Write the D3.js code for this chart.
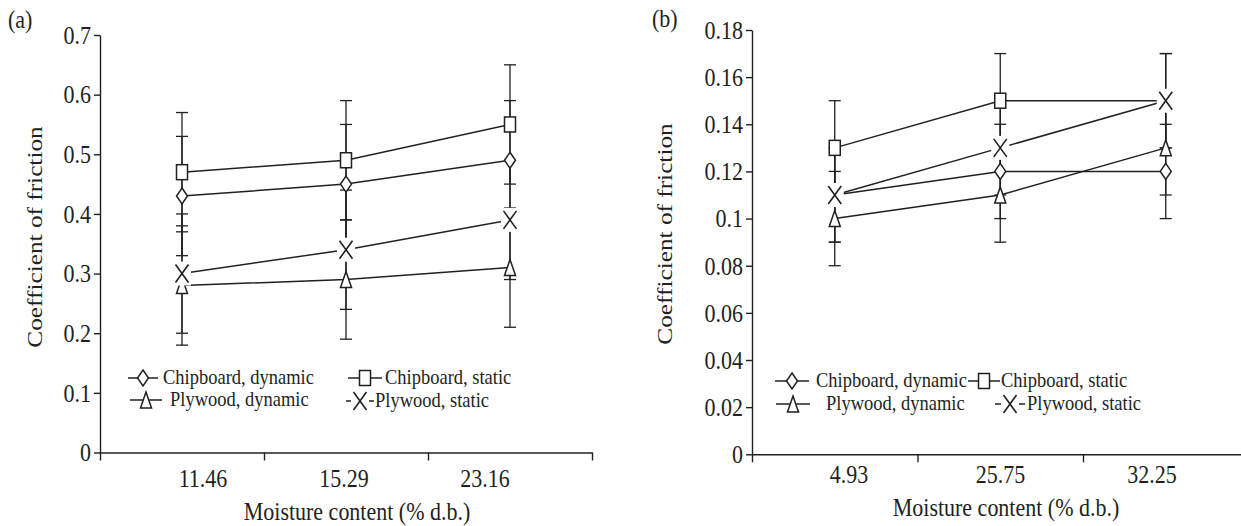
<!DOCTYPE html>
<html>
<head>
<meta charset="utf-8">
<script src="https://cdn.jsdelivr.net/npm/d3@7"></script>
<style>
  body { margin: 0; background: #fff; }
  svg { display: block; }
  text { font-family: "Liberation Serif", "Times New Roman", serif; fill: #231f20; }
</style>
</head>
<body>
<svg id="chart" width="1241" height="526"></svg>
<script>
// ---- data ----
const seriesNames = ["Chipboard, dynamic", "Chipboard, static", "Plywood, dynamic", "Plywood, static"];
const seriesSymbols = ["diamond", "square", "triangle", "cross"];

// (a)
const moistureA = ["11.46", "15.29", "23.16"];
const chipboardDynamicA = [0.43, 0.45, 0.49];
const chipboardStaticA = [0.47, 0.49, 0.55];
const plywoodDynamicA = [0.28, 0.29, 0.31];
const plywoodStaticA = [0.30, 0.34, 0.39];
const errorA = [0.1, 0.1, 0.1, 0.1];
const yTicksA = [0, 0.1, 0.2, 0.3, 0.4, 0.5, 0.6, 0.7];
const yTickLabelsA = ["0", "0.1", "0.2", "0.3", "0.4", "0.5", "0.6", "0.7"];

// (b)
const moistureB = ["4.93", "25.75", "32.25"];
const chipboardDynamicB = [0.11, 0.12, 0.12];
const chipboardStaticB = [0.13, 0.15, 0.15];
const plywoodDynamicB = [0.10, 0.11, 0.13];
const plywoodStaticB = [0.11, 0.13, 0.15];
const errorB = [0.02, 0.02, 0.02, 0.02];
const yTicksB = [0, 0.02, 0.04, 0.06, 0.08, 0.1, 0.12, 0.14, 0.16, 0.18];
const yTickLabelsB = ["0", "0.02", "0.04", "0.06", "0.08", "0.1", "0.12", "0.14", "0.16", "0.18"];

const xTitle = "Moisture content (% d.b.)";
const yTitle = "Coefficient of friction";

// ---- styling / layout ----
const INK = "#231f20";
const STRETCH = 1.15;          // vertical stretch of the lettering
const MW = 11, MH = 16;        // marker box

const svg = d3.select("#chart");

function stretchedText(parent, x, y, str, size, anchor, rotate) {
  const g = parent.append("g").attr("transform", `translate(${x},${y}) scale(1,${STRETCH})`);
  const t = g.append("text")
    .attr("font-size", size)
    .attr("text-anchor", anchor || "start")
    .text(str);
  if (rotate) t.attr("transform", `rotate(${rotate})`);
  return t;
}

function drawMarker(g, sym, cx, cy) {
  const m = g.append("g").attr("transform", `translate(${cx},${cy})`);
  const w = MW / 2, h = MH / 2;
  if (sym === "diamond") {
    m.append("path").attr("d", `M0,${-h}L${w},0L0,${h}L${-w},0Z`)
      .attr("fill", "#fff").attr("stroke", INK).attr("stroke-width", 1.5);
  } else if (sym === "square") {
    m.append("rect").attr("x", -w).attr("y", -h + 0.5).attr("width", MW).attr("height", MH - 1)
      .attr("fill", "#fff").attr("stroke", INK).attr("stroke-width", 1.5);
  } else if (sym === "triangle") {
    m.append("path").attr("d", `M0,${-h}L${w},${h}L${-w},${h}Z`)
      .attr("fill", "#fff").attr("stroke", INK).attr("stroke-width", 1.5);
  } else if (sym === "cross") {
    m.append("rect").attr("x", -9).attr("y", -12).attr("width", 18).attr("height", 24).attr("fill", "#fff");
    const cw = 6.5, ch = 9;
    m.append("path").attr("d", `M${-cw},${-ch}L${cw},${ch}M${cw},${-ch}L${-cw},${ch}`)
      .attr("fill", "none").attr("stroke", INK).attr("stroke-width", 1.6);
  }
}

function drawPanel(cfg) {
  const g = svg.append("g");
  const series = cfg.values.map((vals, i) => ({ name: seriesNames[i], sym: seriesSymbols[i], vals, err: cfg.errors[i] }));

  const x = d3.scaleBand().domain(cfg.categories).range(cfg.xRange).paddingInner(0).paddingOuter(0);
  const xEdges = d3.scaleLinear().domain([0, cfg.categories.length]).range(cfg.xRange);
  const xLabel = d3.scalePoint().domain(cfg.categories).range(cfg.labelRange);
  const y = d3.scaleLinear().domain([0, cfg.yMax]).range(cfg.yRange);
  const cx = c => x(c) + x.bandwidth() / 2;

  // x axis: ticks on category boundaries
  g.append("g")
    .attr("transform", `translate(0,${cfg.yRange[0]})`)
    .call(d3.axisBottom(xEdges).tickValues(d3.range(cfg.categories.length + 1)).tickFormat("").tickSizeInner(8).tickSizeOuter(0))
    .call(a => a.selectAll("path,line").attr("stroke", INK).attr("stroke-width", 1.4));

  // y axis
  const ya = g.append("g")
    .attr("transform", `translate(${cfg.xRange[0]},0)`)
    .call(d3.axisLeft(y).tickValues(cfg.yTicks).tickFormat((d, i) => cfg.yTickLabels[i]).tickSizeInner(6).tickSizeOuter(0));
  ya.selectAll("path,line").attr("stroke", INK).attr("stroke-width", 1.4);
  ya.selectAll("text")
    .attr("font-size", 22).attr("fill", INK)
    .attr("font-family", "Liberation Serif, serif")
    .attr("x", -9).attr("dy", "0.33em")
    .attr("transform", `scale(1,${STRETCH})`);

  // category labels
  cfg.categories.forEach(c => stretchedText(g, xLabel(c), cfg.labelBaseline, c, 22, "middle"));

  // titles
  stretchedText(g, cfg.xTitlePos[0], cfg.xTitlePos[1], xTitle, 22, "middle");
  stretchedText(g, cfg.yTitlePos[0], cfg.yTitlePos[1], yTitle, 22, "middle", -90);
  stretchedText(g, cfg.letterPos[0], cfg.letterPos[1], cfg.letter, 22, "start");

  // error bars
  const eb = g.append("g").attr("stroke", INK).attr("stroke-width", 1.3);
  series.forEach(s => {
    s.vals.forEach((v, j) => {
      const px = cx(cfg.categories[j]);
      eb.append("line").attr("x1", px).attr("x2", px).attr("y1", y(v - s.err)).attr("y2", y(v + s.err));
      [v - s.err, v + s.err].forEach(e =>
        eb.append("line").attr("x1", px - 6).attr("x2", px + 6).attr("y1", y(e)).attr("y2", y(e)));
    });
  });

  // connecting lines
  const line = d3.line().x((d, j) => cx(cfg.categories[j])).y(d => y(d));
  series.forEach(s => {
    g.append("path").attr("d", line(s.vals)).attr("fill", "none").attr("stroke", INK).attr("stroke-width", 1.5);
  });

  // markers
  series.forEach(s => s.vals.forEach((v, j) => drawMarker(g, s.sym, cx(cfg.categories[j]), y(v))));

  // legend
  const lg = g.append("g");
  series.forEach((s, i) => {
    const p = cfg.legend[i];
    lg.append("line").attr("x1", p.x).attr("x2", p.x + p.len).attr("y1", p.y).attr("y2", p.y)
      .attr("stroke", INK).attr("stroke-width", 1.5);
    drawMarker(lg, s.sym, p.x + p.len / 2, p.y);
    stretchedText(lg, p.tx, p.y + 6, s.name, 18.5, "start");
  });
}

drawPanel({
  letter: "(a)",
  categories: moistureA,
  values: [chipboardDynamicA, chipboardStaticA, plywoodDynamicA, plywoodStaticA],
  errors: errorA,
  yMax: 0.7, yTicks: yTicksA, yTickLabels: yTickLabelsA,
  xRange: [100, 592], yRange: [452.5, 35],
  labelRange: [203, 485], labelBaseline: 487,
  xTitlePos: [357, 520], yTitlePos: [42, 237], letterPos: [8, 28],
  legend: [
    { x: 128, y: 378, len: 30, tx: 163 },
    { x: 348, y: 378, len: 34, tx: 385 },
    { x: 130, y: 400, len: 32, tx: 170 },
    { x: 346, y: 401, len: 28, tx: 375 }
  ]
});

drawPanel({
  letter: "(b)",
  categories: moistureB,
  values: [chipboardDynamicB, chipboardStaticB, plywoodDynamicB, plywoodStaticB],
  errors: errorB,
  yMax: 0.18, yTicks: yTicksB, yTickLabels: yTickLabelsB,
  xRange: [752, 1248.5], yRange: [454.3, 30],
  labelRange: [849, 1152], labelBaseline: 483,
  xTitlePos: [1006, 516], yTitlePos: [672, 234], letterPos: [652, 27],
  legend: [
    { x: 775, y: 381, len: 34, tx: 816 },
    { x: 968, y: 381, len: 32, tx: 1001 },
    { x: 776, y: 404, len: 34, tx: 826 },
    { x: 995, y: 404, len: 30, tx: 1027 }
  ]
});
</script>
</body>
</html>
